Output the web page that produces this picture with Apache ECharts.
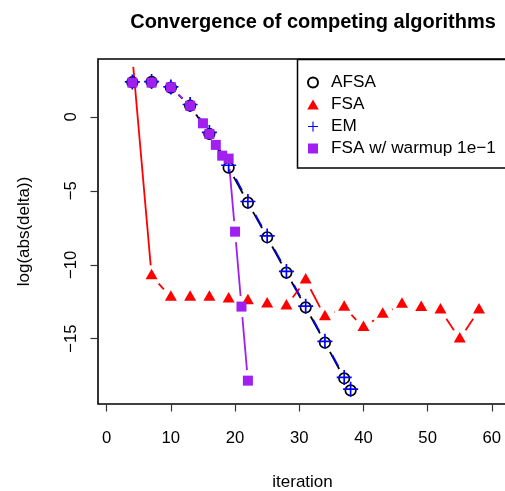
<!DOCTYPE html>
<html>
<head>
<meta charset="utf-8">
<script src="https://cdn.jsdelivr.net/npm/echarts@6/dist/echarts.min.js"></script>
<style>
  html, body { margin: 0; padding: 0; background: #fff; }
  #chart { width: 505px; height: 491px; }
</style>
</head>
<body>
<div id="chart"></div>
<script>
// Iterations and log(abs(delta)) for each algorithm
const afsaX = [4, 7, 10, 13, 16, 19, 22, 25, 28, 31, 34, 37, 38];
const afsaY = [2.35, 2.37, 1.98, 0.76, -1.15, -3.43, -5.8, -8.14, -10.53, -12.88, -15.27, -17.68, -18.5];

const fsaX = [4, 7, 10, 13, 16, 19, 22, 25, 28, 31, 34, 37, 40, 43, 46, 49, 52, 55, 58];
const fsaY = [4.09, -10.75, -12.2, -12.2, -12.2, -12.31, -12.43, -12.65, -12.79, -11.03, -13.51, -12.88, -14.24, -13.35, -12.68, -12.9, -13.06, -15.02, -13.06];

const emX = [4, 7, 10, 13, 16, 19, 22, 25, 28, 31, 34, 37, 38];
const emY = [2.37, 2.39, 2.03, 0.84, -1.05, -3.27, -5.72, -8.05, -10.45, -12.8, -15.18, -17.62, -18.42];

const warmX = [4, 7, 10, 13, 15, 16, 17, 18, 19, 20, 21, 22];
const warmY = [2.32, 2.32, 2.01, 0.76, -0.43, -1.15, -1.89, -2.62, -2.82, -7.76, -12.83, -17.84];

const xTicks = [0, 10, 20, 30, 40, 50, 60];
const yTicks = [-15, -10, -5, 0];

const FONT = 'Liberation Sans, Arial, Helvetica, sans-serif';
const GAP = 10.5;   // gap left around each point, like plot type "b"

function points(xs, ys) { return xs.map((x, i) => [x, ys[i]]); }
function segments(xs, ys) {
  const out = [];
  for (let i = 0; i + 1 < xs.length; i++) out.push([xs[i], ys[i], xs[i + 1], ys[i + 1]]);
  return out;
}

// Connecting segments, shortened at both ends so markers sit in a gap
function gapLine(xs, ys, color, dash, dashOffset) {
  return {
    type: 'custom',
    clip: true,
    silent: true,
    legendHoverLink: false,
    data: segments(xs, ys),
    encode: { x: [0, 2], y: [1, 3] },
    renderItem: function (params, api) {
      const p1 = api.coord([api.value(0), api.value(1)]);
      const p2 = api.coord([api.value(2), api.value(3)]);
      const dx = p2[0] - p1[0], dy = p2[1] - p1[1];
      const len = Math.sqrt(dx * dx + dy * dy);
      if (len <= 2 * GAP) return null;
      const ux = dx / len, uy = dy / len;
      return {
        type: 'line',
        shape: { x1: p1[0] + ux * GAP, y1: p1[1] + uy * GAP, x2: p2[0] - ux * GAP, y2: p2[1] - uy * GAP },
        style: { stroke: color, lineWidth: 1.8, lineDash: dash || null, lineDashOffset: dashOffset || 0, fill: null }
      };
    }
  };
}

// Marker shapes (paths keep their aspect inside the legend)
const plusPath = 'path://M-0.9,-8H0.9V-0.9H8V0.9H0.9V8H-0.9V0.9H-8V-0.9H-0.9Z';
const trianglePath = 'path://M0,-1.555L1.347,0.778L-1.347,0.778Z';
const squarePath = 'path://M0,0H1V1H0Z';

const chart = echarts.init(document.getElementById('chart'), null, { renderer: 'canvas' });

chart.setOption({
  animation: false,
  backgroundColor: '#fff',
  textStyle: { fontFamily: FONT, color: '#000' },
  title: {
    text: 'Convergence of competing algorithms',
    left: 308,
    top: 7,
    textAlign: 'center',
    textStyle: { fontFamily: FONT, fontSize: 20, fontWeight: 'bold', color: '#000' }
  },
  grid: {
    left: 98, top: 59, width: 409, height: 345,
    outerBoundsMode: 'none',
    containLabel: false,
    show: true, borderColor: '#000', borderWidth: 1.6, backgroundColor: 'transparent'
  },
  // Legend frame; it runs on past the right edge together with the plot box
  graphic: [{
    type: 'rect',
    z: 3,
    silent: true,
    shape: { x: 297.5, y: 59.5, width: 220, height: 108.5 },
    style: { fill: '#fff', stroke: '#000', lineWidth: 1.5 }
  }],
  legend: {
    left: 304, top: 60,
    z: 5,
    orient: 'vertical',
    padding: [14, 0, 11, 3],
    itemGap: 5,
    itemWidth: 26, itemHeight: 10,
    backgroundColor: 'transparent',
    borderWidth: 0,
    selectedMode: false,
    textStyle: { fontFamily: FONT, fontSize: 17.2, color: '#000', lineHeight: 17 },
    data: ['AFSA', 'FSA', 'EM', 'FSA w/ warmup 1e\u22121']
  },
  xAxis: {
    type: 'value',
    min: -1.35, max: 62.36,
    name: 'iteration',
    nameLocation: 'middle',
    nameGap: 70,
    nameTextStyle: { fontFamily: FONT, fontSize: 17, color: '#000' },
    axisLine: { show: false, onZero: false },
    splitLine: { show: false },
    axisTick: { show: true, inside: false, length: 7.5, customValues: xTicks, lineStyle: { color: '#333', width: 1.2 } },
    axisLabel: { customValues: xTicks, margin: 26, fontFamily: FONT, fontSize: 16.7, color: '#000' }
  },
  yAxis: {
    type: 'value',
    min: -19.42, max: 3.92,
    name: 'log(abs(delta))',
    nameLocation: 'middle',
    nameGap: 65,
    nameTextStyle: { fontFamily: FONT, fontSize: 17, color: '#000' },
    axisLine: { show: false, onZero: false },
    splitLine: { show: false },
    axisTick: { show: true, inside: false, length: 7.5, customValues: yTicks, lineStyle: { color: '#333', width: 1.2 } },
    axisLabel: {
      customValues: yTicks, rotate: 90, margin: 18,
      fontFamily: FONT, fontSize: 16.7, color: '#000',
      formatter: v => String(v).replace('-', '\u2212')
    }
  },
  series: [
    gapLine(afsaX, afsaY, '#000'),
    {
      name: 'AFSA', type: 'scatter', clip: true,
      data: points(afsaX, afsaY),
      symbol: 'circle', symbolSize: 10.5,
      itemStyle: { color: 'rgba(255,255,255,0)', borderColor: '#000', borderWidth: 1.7, opacity: 1 }
    },
    gapLine(fsaX, fsaY, '#ff0000'),
    {
      name: 'FSA', type: 'scatter', clip: true,
      data: points(fsaX, fsaY),
      symbol: trianglePath, symbolSize: [12, 10.5], symbolOffset: [0, -1.75],
      itemStyle: { color: '#ff0000', opacity: 1 }
    },
    gapLine(emX, emY, '#0000ff', [13, 5], 13),
    {
      name: 'EM', type: 'scatter', clip: true,
      data: points(emX, emY),
      symbol: plusPath, symbolSize: 15,
      itemStyle: { color: '#0000ff', opacity: 1 }
    },
    gapLine(warmX, warmY, '#a020f0'),
    {
      name: 'FSA w/ warmup 1e\u22121', type: 'scatter', clip: true,
      data: points(warmX, warmY),
      symbol: squarePath, symbolSize: 10,
      itemStyle: { color: '#a020f0', opacity: 1 }
    }
  ]
});
</script>
</body>
</html>
